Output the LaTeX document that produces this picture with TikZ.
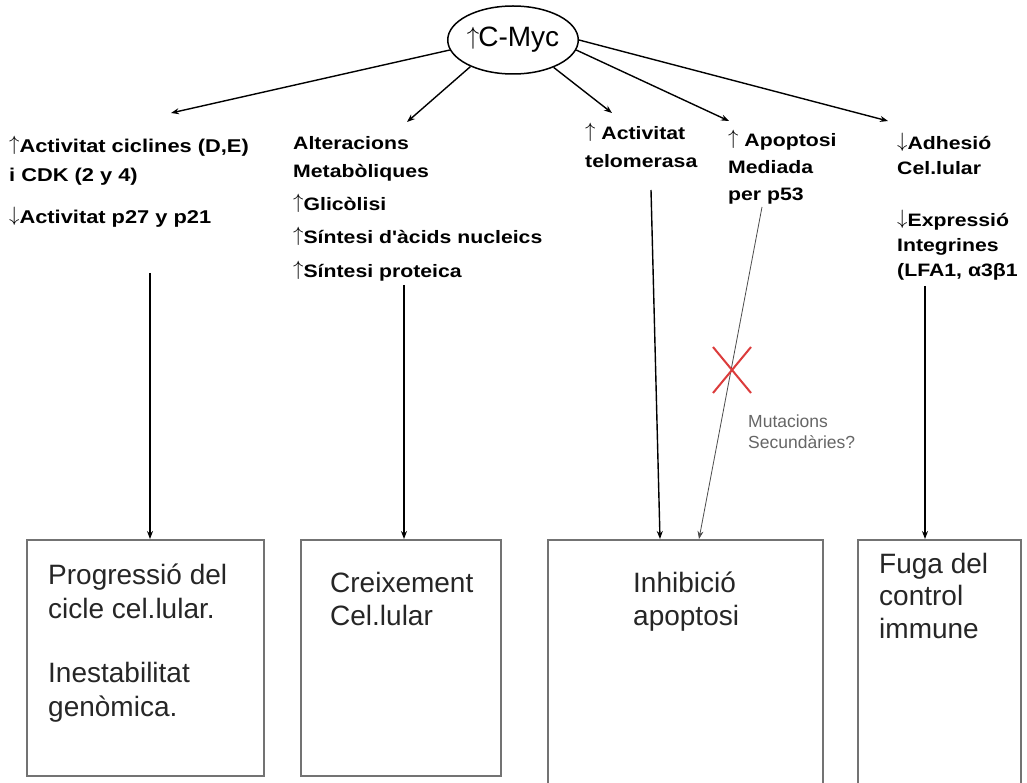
\documentclass[tikz,border=0pt]{standalone}
\usepackage{fontspec}
\setmainfont{Liberation Sans}
\newfontfamily\lblfont[FakeStretch=1.18]{Liberation Sans}
\usetikzlibrary{shapes.geometric,arrows.meta,calc}
\definecolor{crossred}{RGB}{220,60,60}
\tikzset{
  conn/.style={line width=1.4pt, -{Stealth[length=8pt,width=6pt]}},
  thinconn/.style={line width=0.8pt, draw=black!70, -{Stealth[length=8pt,width=6pt]}},
  boldlbl/.style={anchor=base west, inner sep=0pt, font=\lblfont\bfseries\fontsize{18}{28}\selectfont},
  boxlbl/.style={anchor=base west, inner sep=0pt, font=\fontsize{28}{34.5}\selectfont, text=black!85},
  resbox/.style={draw=black!55, line width=1.5pt, inner sep=0pt},
  cross/.style={draw=crossred, line width=2pt}
}
\newcommand{\upar}{{\mdseries\fontsize{20}{20}\selectfont\raisebox{2pt}{$\uparrow$}}}
\newcommand{\dnar}{{\mdseries\fontsize{20}{20}\selectfont\raisebox{2pt}{$\downarrow$}}}
\newcommand{\ml}[1]{\begin{tabular}[t]{@{}l@{}}#1\end{tabular}}
\begin{document}
\begin{tikzpicture}[x=1pt,y=-1pt]
\useasboundingbox (0,0) rectangle (1027,783);
\clip (0,0) rectangle (1027,783);
\fill[white] (0,0) rectangle (1027,783);

% central ellipse
\node[ellipse, draw, line width=1.5pt, minimum width=124pt, minimum height=68pt, inner sep=0pt,
      font=\fontsize{28}{28}\selectfont] (cm) at (513,40) {\raisebox{2pt}{$\uparrow$}\kern-1pt C-Myc};

% text blocks
\node[boldlbl, font=\lblfont\bfseries\fontsize{18.5}{29}\selectfont] (cyc) at (9,153) {\ml{\upar Activitat ciclines (D,E)\\ i CDK (2 y 4)\\[13pt] \dnar Activitat p27 y p21}};
\node[boldlbl] (met) at (293,150) {\ml{Alteracions\\ Metabòliques\\[5pt] \upar Glicòlisi\\[5pt] \upar Síntesi d'àcids nucleics\\[6pt] \upar Síntesi proteica}};
\node[boldlbl] (tel) at (585,140) {\ml{\upar\ Activitat\\ telomerasa}};
\node[boldlbl, font=\lblfont\bfseries\fontsize{18}{27}\selectfont] (apo) at (728,147) {\ml{\upar\ Apoptosi\\ Mediada\\ per p53}};
\node[boldlbl, font=\lblfont\bfseries\fontsize{18}{25}\selectfont] (adh) at (897,150) {\ml{\dnar Adhesió\\ Cel.lular\\[27pt] \dnar Expressió\\ Integrines\\ (LFA1, α3β1}};

% result boxes
\node[resbox, anchor=north west, minimum width=237pt, minimum height=236pt] (b1) at (26,539) {};
\node[resbox, anchor=north west, minimum width=200pt, minimum height=236pt] (b2) at (300,539) {};
\node[resbox, anchor=north west, minimum width=275pt, minimum height=280pt] (b3) at (547,539) {};
\node[resbox, anchor=north west, minimum width=163pt, minimum height=280pt] (b4) at (857,539) {};

\node[boxlbl] (b1t) at (48,584) {\ml{Progressió del\\ cicle cel.lular.\\[29pt] Inestabilitat\\ genòmica.}};
\node[boxlbl, font=\fontsize{28}{33}\selectfont] (b2t) at (330,592) {\ml{Creixement\\ Cel.lular}};
\node[boxlbl, font=\fontsize{28}{33}\selectfont] (b3t) at (633,592) {\ml{Inhibició\\ apoptosi}};
\node[boxlbl, font=\fontsize{28}{32.5}\selectfont] (b4t) at (879,573) {\ml{Fuga del\\ control\\ immune}};

% arrow tips from C-Myc
\coordinate (t1) at (171,113);
\coordinate (t2) at (407,122);
\coordinate (t3) at (612,113);
\coordinate (t4) at (729,121);
\coordinate (t5) at (888,121);
\draw[conn] (cm.189) -- (t1);
\draw[conn] (cm.212) -- (t2);
\draw[conn] (cm.-34) -- (t3);
\draw[conn] (cm.-9) -- (t4);
\draw[conn] (cm.0) -- (t5);

% vertical arrows
\coordinate (s1) at (150,273);
\coordinate (s2) at (404,285);
\coordinate (s3) at (651,190);
\coordinate (s4) at (762,207);
\coordinate (s5) at (925,286);
\coordinate (e3a) at (660,539);
\coordinate (e3b) at (699,539);
\draw[conn] (s1) -- (s1 |- b1.north);
\draw[conn] (s2) -- (s2 |- b2.north);
\draw[conn] (s3) -- (e3a);
\draw[thinconn] (s4) -- (e3b);
\draw[conn] (s5) -- (s5 |- b4.north);

% red cross
\coordinate (x0) at (732,370);
\draw[cross] ($(x0)+(-19,-23)$) -- ($(x0)+(19,23)$);
\draw[cross] ($(x0)+(19,-23)$) -- ($(x0)+(-19,23)$);
\node[anchor=base west, inner sep=0pt, text=black!60,
      font=\fontsize{17.5}{21}\selectfont] (mut) at (748,427) {\ml{Mutacions\\ Secundàries?}};
\end{tikzpicture}
\end{document}
